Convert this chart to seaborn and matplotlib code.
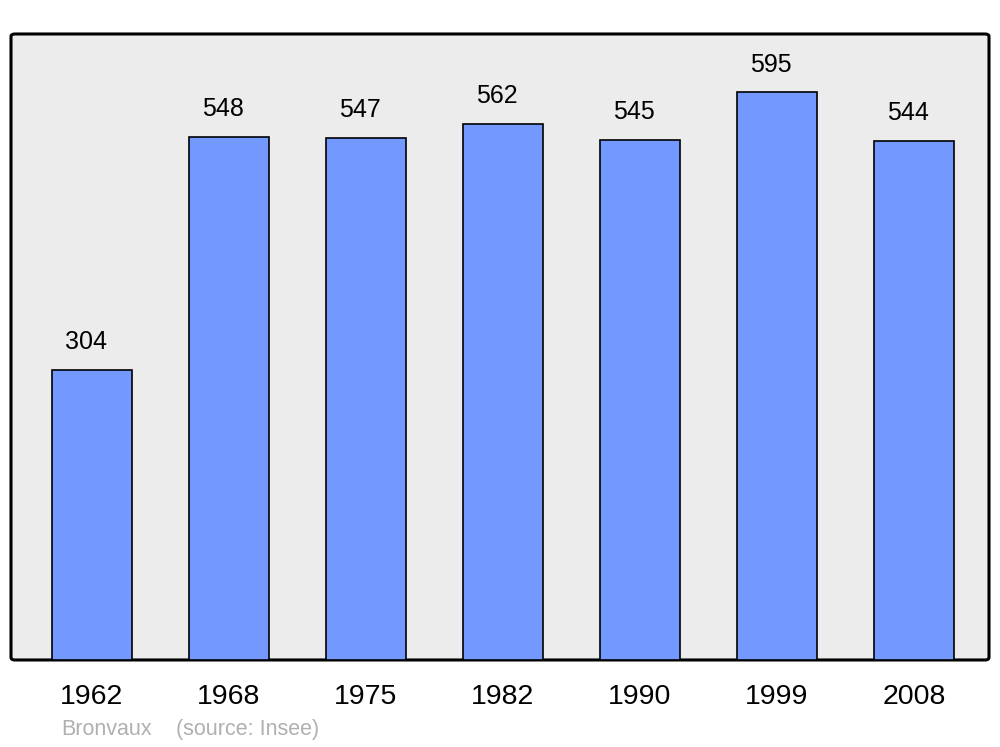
import matplotlib
matplotlib.use('Agg')
import matplotlib.pyplot as plt
import seaborn as sns
from matplotlib.patches import FancyBboxPatch

years = ['1962', '1968', '1975', '1982', '1990', '1999', '2008']
population = [304, 548, 547, 562, 545, 595, 544]
commune = 'Bronvaux'
source = '(source: Insee)'

sns.set_style('white')
plt.rcParams['font.family'] = ['Liberation Sans', 'DejaVu Sans']

fig = plt.figure(figsize=(10, 7.47), dpi=100)
ax = fig.add_axes([0.011, 0.1165, 0.978, 0.838])
ax.patch.set_visible(False)
for s in ax.spines.values():
    s.set_visible(False)

# rounded grey frame behind the bars
frame = FancyBboxPatch((0, 0), 1, 1, boxstyle='round,pad=0,rounding_size=0.004',
                       transform=ax.transAxes, facecolor='#ececec',
                       edgecolor='black', linewidth=2.2, zorder=0, clip_on=False)
ax.add_patch(frame)

sns.barplot(x=years, y=population, color='#7399ff', saturation=1,
            edgecolor='black', linewidth=1.2, width=0.58, ax=ax, zorder=2)

for i, v in enumerate(population):
    ax.text(i - 0.045, v + 29, str(v), ha='center', va='center',
            fontsize=18, color='black')

ax.set_xlim(-0.59, 6.547)
ax.set_ylim(0, 656)
ax.set_yticks([])
ax.set_xlabel('')
ax.set_ylabel('')
ax.tick_params(axis='x', length=0, labelsize=20.5, pad=17, labelcolor='black')

fig.text(0.061, 0.0228, commune, color='#b0b0b0', fontsize=15.5, va='center')
fig.text(0.176, 0.0228, source, color='#b0b0b0', fontsize=15.5, va='center')

fig.savefig('out.png', dpi=100)
